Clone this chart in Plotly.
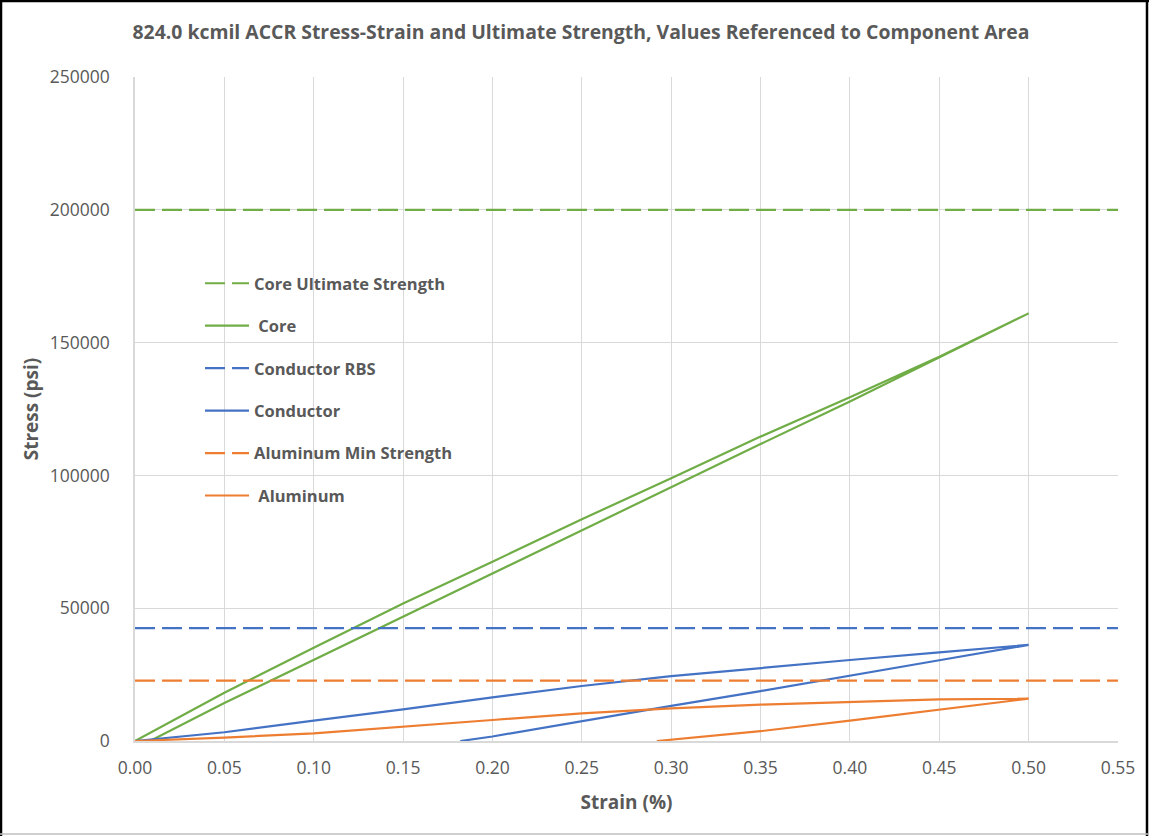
import plotly.graph_objects as go

# ---- data ----
core_strain = [0, 0.05, 0.10, 0.15, 0.20, 0.25, 0.30, 0.35, 0.40, 0.45, 0.50,
               0.45, 0.40, 0.35, 0.30, 0.25, 0.20, 0.15, 0.10, 0.05, 0.0084]
core_stress = [0, 18200, 35100, 51800, 67500, 83500, 98900, 114600, 129400, 144700, 161000,
               144400, 127800, 111800, 95500, 79200, 63100, 46800, 30500, 14300, 0]

cond_strain = [0, 0.05, 0.10, 0.15, 0.20, 0.25, 0.30, 0.35, 0.40, 0.45, 0.50,
               0.45, 0.40, 0.35, 0.30, 0.25, 0.20, 0.182]
cond_stress = [0, 3300, 7640, 11900, 16450, 20700, 24400, 27500, 30500, 33400, 36200,
               30400, 24500, 18800, 13200, 7500, 1700, 0]

alum_strain = [0, 0.05, 0.10, 0.15, 0.20, 0.25, 0.30, 0.35, 0.40, 0.45, 0.50,
               0.45, 0.40, 0.35, 0.30, 0.292]
alum_stress = [0, 1300, 2900, 5500, 7900, 10400, 12300, 13700, 14800, 15700, 15930,
               11700, 7640, 3700, 450, 0]

limit_strain = [0, 0.55]
core_ultimate = 200000
conductor_rbs = 42500
alum_min = 22700

x_ticks = [0, 0.05, 0.10, 0.15, 0.20, 0.25, 0.30, 0.35, 0.40, 0.45, 0.50, 0.55]
y_ticks = [0, 50000, 100000, 150000, 200000, 250000]

GREEN = "#70AD47"
BLUE = "#4472C4"
ORANGE = "#ED7D31"
TXT = "#595959"
GRID = "#D9D9D9"
FONT = "Open Sans"

W, H = 1149, 836
L, R, T, B = 135, 31, 77, 95
PW, PH = W - L - R, H - T - B

fig = go.Figure()
dash = "20px,7px"
LW = 2.2
fig.add_trace(go.Scatter(x=limit_strain, y=[core_ultimate] * 2, mode="lines",
                         name="Core Ultimate Strength", legendgroup="a",
                         line=dict(color=GREEN, width=LW, dash=dash)))
fig.add_trace(go.Scatter(x=core_strain, y=core_stress, mode="lines",
                         name="\u00a0Core", legendgroup="b",
                         line=dict(color=GREEN, width=LW)))
fig.add_trace(go.Scatter(x=limit_strain, y=[conductor_rbs] * 2, mode="lines",
                         name="Conductor RBS", legendgroup="c",
                         line=dict(color=BLUE, width=LW, dash=dash)))
fig.add_trace(go.Scatter(x=cond_strain, y=cond_stress, mode="lines",
                         name="Conductor", legendgroup="d",
                         line=dict(color=BLUE, width=LW)))
fig.add_trace(go.Scatter(x=limit_strain, y=[alum_min] * 2, mode="lines",
                         name="Aluminum Min Strength", legendgroup="e",
                         line=dict(color=ORANGE, width=LW, dash=dash)))
fig.add_trace(go.Scatter(x=alum_strain, y=alum_stress, mode="lines",
                         name="\u00a0Aluminum", legendgroup="f",
                         line=dict(color=ORANGE, width=LW)))

def px_x(p):
    return (p - L) / PW

def px_y(p):
    return (H - B - p) / PH

shapes = [
    dict(type="line", xref="paper", yref="paper", x0=px_x(1), x1=px_x(1), y0=px_y(0), y1=px_y(H),
         line=dict(color="black", width=2.5)),
    dict(type="line", xref="paper", yref="paper", x0=px_x(0), x1=px_x(W), y0=px_y(1), y1=px_y(1),
         line=dict(color="black", width=2.5)),
    dict(type="line", xref="paper", yref="paper", x0=px_x(W - 2), x1=px_x(W - 2), y0=px_y(0), y1=px_y(H),
         line=dict(color="black", width=2.5)),
    dict(type="line", xref="paper", yref="paper", x0=px_x(0), x1=px_x(W), y0=px_y(H - 2), y1=px_y(H - 2),
         line=dict(color="#BFBFBF", width=1.5)),
]

fig.update_layout(
    width=W, height=H,
    margin=dict(l=L, r=R, t=T, b=B, autoexpand=False),
    paper_bgcolor="white", plot_bgcolor="white",
    font=dict(family=FONT, color=TXT),
    title=dict(text="<b>824.0 kcmil ACCR Stress-Strain and Ultimate Strength, Values Referenced to Component Area</b>",
               x=px_x(581), xref="paper", xanchor="center", y=1 - 32 / H, yanchor="middle",
               font=dict(size=19.4, color=TXT, family=FONT)),
    showlegend=True,
    legend=dict(x=px_x(200), y=px_y(266), xanchor="left", yanchor="top",
                bgcolor="rgba(0,0,0,0)", font=dict(size=16.5, color=TXT, family=FONT, weight="bold"),
                tracegroupgap=18, traceorder="grouped", itemwidth=44),
    shapes=shapes,
)

fig.update_xaxes(range=[0, 0.55], tickvals=x_ticks, tickformat=".2f",
                 showgrid=True, gridcolor=GRID, gridwidth=1,
                 showline=True, linecolor=GRID, linewidth=1.5, zeroline=False,
                 ticks="", ticklabelstandoff=10, tickfont=dict(size=17.5, color=TXT),
                 title=dict(text="<b>Strain (%)</b>", font=dict(size=19, color=TXT), standoff=18))
fig.update_yaxes(range=[0, 250000], tickvals=y_ticks, tickformat="d",
                 showgrid=True, gridcolor=GRID, gridwidth=1,
                 showline=True, linecolor=GRID, linewidth=1.5, zeroline=False,
                 ticks="", ticklabelstandoff=20, tickfont=dict(size=17.5, color=TXT),
                 title=dict(text="<b>Stress (psi)</b>", font=dict(size=19, color=TXT), standoff=6))

fig.write_html("out.html")
